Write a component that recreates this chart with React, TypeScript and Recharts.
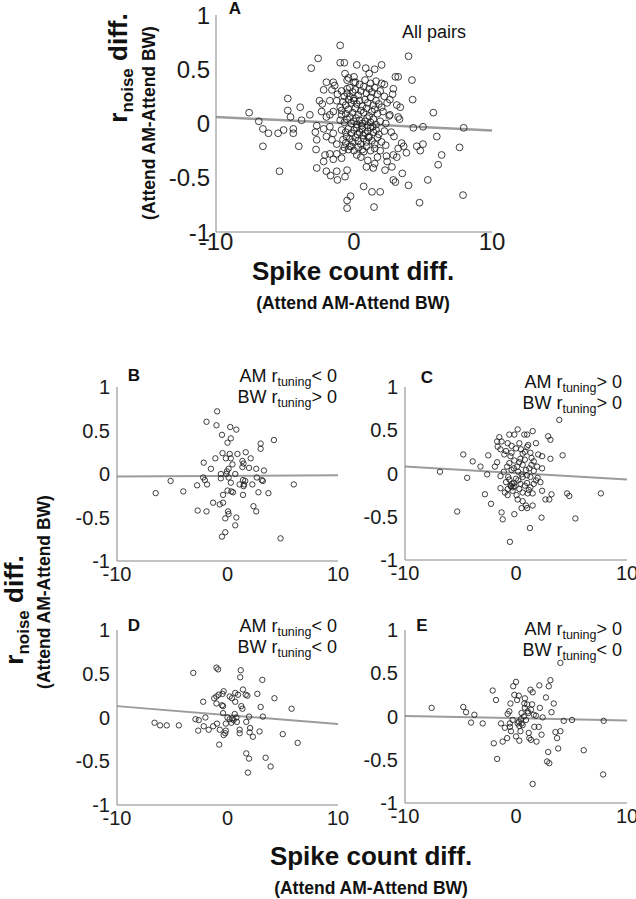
import { ScatterChart, Scatter, XAxis, YAxis, ReferenceLine } from "recharts";

const FONT = "'Liberation Sans', Arial, Helvetica, sans-serif";

const xTicks = [-10, 0, 10];
const yTicks = [-1, -0.5, 0, 0.5, 1];

// spike count diff, rnoise diff
const pairsAll: [number, number][] = [
    [-7.6, 0.1], [-6.9, 0.02], [-6.6, -0.05], [-6.6, -0.21], [-6.2, -0.09], [-5.5, -0.09], [-5.4, -0.44], [-4.8, 0.23], [-4.8, 0.12], [-4.6, 0.06],
    [-5.1, -0.06], [-4.4, -0.05], [-4.4, -0.09], [-3.9, 0.15], [-4.0, -0.21], [-3.8, 0.03], [-3.1, 0.51], [-3.2, 0.08], [-2.8, -0.08], [-2.7, -0.15],
    [-2.7, -0.02], [-2.75, -0.24], [-2.7, -0.41], [-2.5, 0.21], [-2.6, 0.6], [-2.2, -0.35], [-2.1, -0.29], [-2.0, -0.44], [-1.7, -0.48], [-1.2, -0.52],
    [-1.25, -0.44], [-1.0, 0.72], [-1.0, 0.56], [-0.65, 0.46], [-0.5, -0.43], [-0.65, -0.49], [-0.25, -0.67], [-0.5, -0.71], [-0.5, -0.78], [0.2, 0.54],
    [0.85, 0.51], [1.1, 0.46], [1.5, 0.5], [2.0, 0.54], [0.7, -0.58], [1.3, -0.63], [1.9, -0.63], [1.45, -0.77], [1.5, -0.37], [2.25, -0.43],
    [2.85, -0.52], [3.0, -0.54], [3.95, -0.57], [3.5, -0.46], [3.95, 0.62], [4.2, 0.4], [4.25, 0.22], [4.3, -0.04], [4.55, -0.21], [4.8, -0.25],
    [5.0, -0.19], [5.0, -0.03], [4.75, -0.73], [5.35, -0.52], [5.75, 0.1], [6.0, -0.12], [6.1, -0.38], [6.35, -0.29], [7.65, -0.22], [7.9, -0.66],
    [7.95, -0.04], [3.0, 0.43], [3.2, 0.43], [2.85, 0.32], [2.8, 0.27], [3.1, 0.17], [3.35, 0.15], [3.2, 0.06], [3.3, 0.04], [2.55, 0.07],
    [3.45, -0.18], [3.6, -0.21], [3.2, -0.23], [2.85, -0.29], [3.1, -0.31], [2.75, -0.4], [2.4, -0.35], [2.3, -0.2], [2.35, -0.3], [1.9, -0.25],
    [1.7, -0.31], [1.4, -0.41], [0.9, -0.4], [1.0, -0.34], [0.5, -0.31], [0.7, -0.26], [0.2, -0.29], [-1.75, -0.28], [-1.25, -0.28], [-1.5, -0.33],
    [-0.9, -0.32], [-0.8, -0.25], [-0.3, -0.21], [-1.25, -0.19], [-1.6, -0.15], [-2.0, -0.12], [-1.5, -0.09], [-1.75, -0.03], [-2.2, -0.05], [-2.0, 0.06],
    [-1.75, 0.08], [-1.5, 0.11], [-2.35, 0.11], [-2.3, 0.18], [-1.75, 0.21], [-1.6, 0.31], [-1.4, 0.35], [-1.2, 0.27], [-1.25, 0.21], [-1.0, 0.15],
    [-0.9, 0.08], [-2.2, 0.31], [-2.0, 0.38], [-1.5, 0.38], [-0.7, 0.56], [-0.4, 0.42], [0.0, 0.43], [0.1, 0.38], [-0.5, 0.32], [-0.3, 0.25],
    [0.0, 0.21], [2.0, 0.37], [2.2, 0.36], [2.6, 0.22], [2.7, -0.08], [2.9, -0.12], [3.8, -0.27],
    [-0.9, 0.3], [-0.7, 0.25], [-0.5, 0.28], [-0.3, 0.33], [-0.1, 0.29], [0.1, 0.31], [0.3, 0.26], [0.5, 0.3], [0.7, 0.34], [0.9, 0.28],
    [1.1, 0.32], [1.3, 0.29], [1.5, 0.33], [1.7, 0.27], [1.9, 0.3], [2.2, 0.25], [-0.8, 0.2], [-0.6, 0.17], [-0.4, 0.22], [-0.2, 0.19],
    [0.0, 0.23], [0.2, 0.18], [0.4, 0.21], [0.6, 0.16], [0.8, 0.22], [1.0, 0.19], [1.2, 0.24], [1.4, 0.17], [1.6, 0.21], [1.8, 0.18],
    [2.0, 0.15], [2.4, 0.19], [-0.9, 0.12], [-0.6, 0.09], [-0.4, 0.13], [-0.1, 0.1], [0.1, 0.14], [0.3, 0.08], [0.5, 0.12], [0.7, 0.1],
    [0.9, 0.14], [1.1, 0.07], [1.3, 0.11], [1.5, 0.13], [1.7, 0.09], [2.1, 0.11], [2.6, 0.08], [-1.0, 0.03], [-0.7, 0.01], [-0.5, 0.04],
    [-0.2, 0.0], [0.0, 0.02], [0.2, -0.01], [0.4, 0.03], [0.6, 0.0], [0.8, 0.02], [1.0, -0.02], [1.2, 0.01], [1.4, 0.04], [1.6, -0.01],
    [1.9, 0.02], [2.3, 0.0], [-0.9, -0.06], [-0.6, -0.08], [-0.4, -0.05], [-0.2, -0.09], [0.0, -0.06], [0.2, -0.04], [0.4, -0.08], [0.6, -0.05],
    [0.8, -0.09], [1.0, -0.07], [1.2, -0.04], [1.4, -0.08], [1.6, -0.06], [1.8, -0.1], [2.2, -0.07], [-0.8, -0.15], [-0.6, -0.18], [-0.3, -0.14],
    [-0.1, -0.17], [0.1, -0.13], [0.3, -0.16], [0.5, -0.19], [0.7, -0.14], [0.9, -0.17], [1.1, -0.12], [1.3, -0.16], [1.5, -0.19], [1.7, -0.13],
    [2.0, -0.17], [-0.7, -0.22], [-0.4, -0.24], [-0.2, -0.21], [0.0, -0.25], [0.3, -0.22], [0.6, -0.24], [0.9, -0.21], [1.2, -0.25], [1.5, -0.23],
    [-0.5, 0.4], [0.0, 0.38], [0.4, 0.36], [0.8, 0.4], [1.2, 0.37], [1.6, 0.39], [-0.3, 0.06], [0.15, 0.05], [0.55, -0.02], [0.95, 0.05],
    [1.35, -0.03], [-0.55, -0.12], [0.25, -0.1], [0.65, -0.11], [1.05, -0.13],
];

const pairsB: [number, number][] = [
    [-0.94, 0.72], [-1.9, 0.6], [-1.0, 0.56], [0.25, 0.54], [0.8, 0.51], [-0.5, 0.45], [0.3, 0.41], [0.0, 0.36], [4.2, 0.39], [3.0, 0.35],
    [3.0, 0.29], [-0.45, 0.24], [0.2, 0.23], [0.9, 0.23], [1.65, 0.25], [-1.1, 0.18], [-0.15, 0.18], [0.3, 0.18], [2.1, 0.18], [-2.15, 0.13],
    [1.35, 0.15], [1.45, 0.12], [0.45, 0.11], [-1.5, 0.06], [0.1, 0.06], [-0.05, 0.03], [1.35, 0.08], [1.95, 0.07], [2.6, 0.06], [3.3, 0.04],
    [-2.2, -0.04], [-2.05, -0.07], [-0.6, -0.05], [-0.6, 0.0], [-0.1, 0.0], [0.1, -0.04], [0.7, 0.0], [1.4, -0.07], [1.6, -0.08], [2.65, -0.04],
    [3.1, -0.07], [3.2, -0.08], [-5.15, -0.08], [-2.75, -0.13], [-1.85, -0.12], [0.3, -0.1], [1.1, -0.12], [1.45, -0.14], [1.5, -0.12], [2.25, -0.12],
    [6.0, -0.12], [-6.5, -0.22], [-4.0, -0.2], [0.0, -0.19], [0.35, -0.2], [0.5, -0.21], [2.8, -0.21], [3.7, -0.22], [-0.4, -0.24], [1.4, -0.24],
    [-1.3, -0.33], [-0.7, -0.35], [-0.4, -0.33], [-2.7, -0.42], [-1.9, -0.43], [0.05, -0.43], [0.1, -0.46], [2.35, -0.37], [2.6, -0.43], [0.8, -0.5],
    [-0.2, -0.51], [0.7, -0.59], [-0.2, -0.67], [-0.5, -0.72], [4.8, -0.74],
];

const pairsC: [number, number][] = [
    [3.9, 0.62], [0.15, 0.51], [1.5, 0.49], [-0.6, 0.45], [-0.15, 0.45], [0.75, 0.45], [1.0, 0.45], [2.9, 0.43], [3.1, 0.39], [-1.5, 0.42],
    [-1.7, 0.37], [-1.3, 0.37], [-0.75, 0.35], [-0.4, 0.32], [1.8, 0.35], [-1.65, 0.31], [-1.4, 0.28], [0.0, 0.29], [1.0, 0.31], [1.1, 0.33],
    [0.45, 0.28], [0.6, 0.23], [-4.75, 0.22], [-2.5, 0.21], [-1.05, 0.22], [-0.4, 0.24], [0.8, 0.25], [1.3, 0.24], [2.0, 0.22], [2.35, 0.2],
    [4.2, 0.21], [3.1, 0.17], [0.4, 0.17], [-0.15, 0.15], [-3.9, 0.14], [-1.7, 0.13], [-0.6, 0.12], [1.6, 0.14], [-3.2, 0.08], [-1.9, 0.08],
    [-0.8, 0.08], [0.1, 0.08], [0.6, 0.1], [1.4, 0.1], [1.9, 0.08], [2.35, 0.06], [-6.85, 0.02], [-2.6, -0.01], [-1.1, 0.02], [-0.4, 0.04],
    [0.2, 0.02], [0.9, 0.04], [1.6, 0.03], [-4.4, -0.05], [-1.4, -0.03], [-0.7, -0.04], [0.0, -0.06], [0.6, -0.04], [1.3, -0.04], [1.95, -0.05],
    [2.2, -0.1], [-0.9, -0.1], [-0.2, -0.11], [0.4, -0.12], [1.0, -0.11], [1.6, -0.12], [-0.45, -0.15], [-0.3, -0.16], [-0.15, -0.15], [-1.4, -0.17],
    [-0.75, -0.18], [0.3, -0.18], [1.15, -0.19], [2.35, -0.2], [-2.8, -0.24], [-0.75, -0.25], [0.05, -0.25], [1.05, -0.23], [1.5, -0.23], [3.2, -0.24],
    [4.6, -0.23], [4.8, -0.26], [7.65, -0.23], [0.15, -0.3], [0.6, -0.32], [2.65, -0.3], [3.0, -0.3], [-2.25, -0.35], [0.9, -0.37], [1.5, -0.37],
    [-1.3, -0.45], [-1.2, -0.53], [-0.15, -0.47], [2.3, -0.51], [5.35, -0.52], [-5.3, -0.44], [1.25, -0.63], [-0.55, -0.79], [1.0, -0.4], [0.5, -0.4],
    [-0.5, 0.2], [0.3, 0.13], [0.8, 0.16], [1.2, 0.06], [-0.2, 0.06], [0.5, -0.01], [1.0, -0.02], [-0.6, -0.07], [0.2, -0.08], [0.8, -0.14],
    [1.3, -0.16], [-0.3, -0.2], [0.6, -0.22], [-0.5, -0.14], [-0.35, -0.12], [1.8, -0.08], [1.4, 0.18], [-1.0, -0.22], [0.3, 0.35], [-0.9, 0.26],
];

const pairsD: [number, number][] = [
    [-3.1, 0.51], [-1.0, 0.57], [-0.85, 0.55], [1.2, 0.54], [3.15, 0.43], [1.15, 0.46], [1.4, 0.32], [0.7, 0.28], [0.95, 0.26], [1.65, 0.26],
    [1.8, 0.25], [2.7, 0.27], [-0.35, 0.3], [-0.45, 0.27], [-0.8, 0.26], [-1.0, 0.24], [-1.2, 0.22], [0.2, 0.24], [0.4, 0.22], [4.25, 0.22],
    [-2.2, 0.18], [-1.0, 0.16], [-0.5, 0.14], [-0.4, 0.13], [0.7, 0.18], [1.25, 0.13], [1.35, 0.1], [3.0, 0.12], [5.8, 0.1], [-0.4, 0.05],
    [0.65, 0.04], [0.0, 0.0], [0.2, -0.02], [0.45, -0.01], [0.55, -0.03], [0.8, 0.0], [-2.9, -0.02], [-2.6, -0.03], [-2.0, 0.0], [1.95, 0.01],
    [3.2, 0.01], [-6.6, -0.06], [-6.1, -0.09], [-5.5, -0.09], [-4.4, -0.09], [-2.15, -0.1], [-1.3, -0.1], [-0.95, -0.07], [-0.15, -0.07], [0.35, -0.06],
    [0.85, -0.05], [1.7, -0.05], [-2.65, -0.15], [-1.7, -0.14], [-0.7, -0.14], [-0.15, -0.15], [1.1, -0.14], [1.1, -0.18], [2.05, -0.12], [2.0, -0.17],
    [2.9, -0.16], [-0.35, -0.2], [-0.2, -0.18], [2.3, -0.22], [5.0, -0.19], [-0.75, -0.31], [6.35, -0.29], [1.7, -0.41], [1.95, -0.47], [3.45, -0.46],
    [3.9, -0.56], [1.85, -0.63],
];

const pairsE: [number, number][] = [
    [-7.6, 0.1], [-4.75, 0.11], [-4.5, 0.05], [-3.75, 0.02], [-4.05, -0.07], [-3.0, -0.08], [-2.1, 0.3], [-1.8, 0.19], [-2.0, -0.31], [-1.7, -0.49],
    [-1.35, -0.08], [-1.2, -0.29], [-1.0, -0.13], [-0.8, -0.25], [-0.75, 0.03], [-0.6, 0.06], [-0.5, 0.15], [-0.55, -0.12], [-0.45, -0.17], [-0.3, -0.04],
    [-0.25, 0.35], [-0.15, 0.25], [0.0, 0.4], [0.0, -0.23], [0.1, 0.19], [0.15, -0.08], [0.25, 0.24], [0.3, -0.11], [0.3, -0.28], [0.4, -0.17],
    [0.5, -0.08], [0.6, -0.1], [0.7, 0.0], [0.75, 0.15], [0.8, 0.1], [0.8, 0.21], [0.9, -0.04], [1.0, 0.14], [1.05, 0.06], [1.1, 0.04],
    [1.15, -0.19], [1.2, -0.25], [1.3, 0.31], [1.35, 0.08], [1.35, -0.27], [1.45, 0.14], [1.5, 0.28], [1.6, 0.02], [1.65, -0.12], [1.8, 0.01],
    [1.85, -0.29], [2.05, -0.12], [2.1, 0.36], [2.15, 0.1], [2.3, -0.21], [2.4, -0.01], [1.5, -0.78], [2.7, 0.22], [2.9, -0.41], [2.8, -0.52],
    [3.0, -0.54], [2.95, 0.35], [3.1, 0.42], [3.2, 0.05], [3.4, 0.15], [3.55, -0.18], [3.7, -0.25], [3.8, -0.37], [4.0, -0.17], [4.0, 0.62],
    [4.3, -0.05], [5.05, -0.04], [6.1, -0.39], [7.85, -0.67], [7.9, -0.05], [0.5, 0.04], [0.45, -0.03], [0.25, -0.06], [-0.55, -0.08],
];

// regression line ends at x = -10 and x = 10
const fitAll = [0.06, -0.065];
const fitB = [-0.03, -0.015];
const fitC = [0.08, -0.07];
const fitD = [0.13, -0.075];
const fitE = [0.005, -0.045];

interface PanelProps {
    pairs: [number, number][];
    fit: number[];
    left: number;
    top: number;
    w: number;
    h: number;
    fontSize: number;
    yGap: number;
    xGap: number;
    r: number;
    lineW: number;
}

function Panel({ pairs, fit, left, top, w, h, fontSize, yGap, xGap, r, lineW }: PanelProps) {
    const data = pairs.map(([x, y]) => ({ x, y }));
    const tick = { fontSize, fill: "#1a1a1a", fontFamily: FONT };
    return (
        <div style={{ position: "absolute", left: left - 60, top: top - 20 }}>
            <ScatterChart width={60 + w + 30} height={20 + h + 40} margin={{ top: 20, right: 30, bottom: 0, left: 0 }}>
                <XAxis type="number" dataKey="x" domain={[-10, 10]} ticks={xTicks} height={40} tick={tick}
                    tickLine={false} tickSize={0} tickMargin={xGap} axisLine={{ stroke: "#858585" }} interval={0} />
                <YAxis type="number" dataKey="y" domain={[-1, 1]} ticks={yTicks} width={60} tick={tick}
                    tickLine={false} tickSize={0} tickMargin={yGap} axisLine={{ stroke: "#858585" }} interval={0} />
                <Scatter data={data} isAnimationActive={false}
                    shape={(p: any) => <circle cx={p.cx} cy={p.cy} r={r} fill="none" stroke="#1e1e1e" strokeWidth={0.85} />} />
                <ReferenceLine segment={[{ x: -10, y: fit[0] }, { x: 10, y: fit[1] }]} stroke="#9c9c9c" strokeWidth={lineW} />
            </ScatterChart>
        </div>
    );
}

function Note({ x, y, am, bw }: { x: number; y: number; am: string; bw: string }) {
    return (
        <g fontSize={18} textAnchor="end" fill="#111">
            <text x={x} y={y}>AM r<tspan fontSize={12.5} dy={4}>tuning</tspan><tspan dy={-4}>{am}</tspan></text>
            <text x={x} y={y + 21}>BW r<tspan fontSize={12.5} dy={4}>tuning</tspan><tspan dy={-4}>{bw}</tspan></text>
        </g>
    );
}

function YTitle({ x, y, sx, sy }: { x: number; y: number; sx: number; sy: number }) {
    return (
        <g fontWeight="bold" fill="#111" textAnchor="middle">
            <text transform={`translate(${x},${y}) rotate(-90)`} fontSize={26}>r<tspan fontSize={17} dy={6}>noise</tspan><tspan dy={-6}> diff.</tspan></text>
            <text transform={`translate(${sx},${sy}) rotate(-90)`} fontSize={17.5}>(Attend AM-Attend BW)</text>
        </g>
    );
}

function XTitle({ x, y }: { x: number; y: number }) {
    return (
        <g fontWeight="bold" fill="#111" textAnchor="middle">
            <text x={x} y={y} fontSize={26}>Spike count diff.</text>
            <text x={x} y={y + 29} fontSize={17.5}>(Attend AM-Attend BW)</text>
        </g>
    );
}

export default function App() {
    const small = { fontSize: 20, yGap: 7, xGap: 6, r: 2.7, lineW: 2 };
    return (
        <div style={{ position: "absolute", left: 0, top: 0, width: 636, height: 899, overflow: "hidden", background: "#fff", fontFamily: FONT }}>
            <Panel pairs={pairsAll} fit={fitAll} left={216} top={15} w={276} h={217} fontSize={24} yGap={6} xGap={1} r={3.4} lineW={2.5} />
            <Panel pairs={pairsB} fit={fitB} left={117} top={387} w={221} h={174} {...small} />
            <Panel pairs={pairsC} fit={fitC} left={405} top={387} w={222} h={173} {...small} />
            <Panel pairs={pairsD} fit={fitD} left={117} top={630} w={221} h={175} {...small} />
            <Panel pairs={pairsE} fit={fitE} left={405} top={630} w={222} h={173} {...small} />
            <svg width={636} height={899} style={{ position: "absolute", left: 0, top: 0, pointerEvents: "none" }} fontFamily={FONT}>
                <g fontWeight="bold" fontSize={17} textAnchor="middle" fill="#111">
                    <text x={235} y={14}>A</text>
                    <text x={134} y={381}>B</text>
                    <text x={427} y={383}>C</text>
                    <text x={134} y={631}>D</text>
                    <text x={422} y={631}>E</text>
                </g>
                <text x={402} y={38} fontSize={18} fill="#111">All pairs</text>
                <Note x={337} y={382} am="< 0" bw="> 0" />
                <Note x={622} y={388} am="> 0" bw="> 0" />
                <Note x={337} y={632} am="< 0" bw="< 0" />
                <Note x={622} y={635} am="> 0" bw="< 0" />
                <YTitle x={127} y={68} sx={155} sy={123} />
                <YTitle x={23} y={610} sx={50} sy={592} />
                <XTitle x={353} y={280} />
                <XTitle x={371} y={865} />
            </svg>
        </div>
    );
}
